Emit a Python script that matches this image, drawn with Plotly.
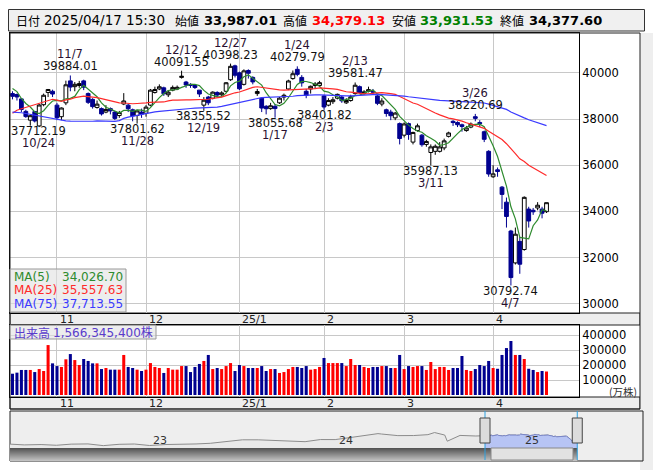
import plotly.graph_objects as go
import pandas as pd

W, H = 653, 470
def X(p): return p / W
def Y(p): return 1 - p / H

# ---------------- data ----------------
dates = ["10/18","10/21","10/22","10/23","10/24","10/25","10/28","10/29","10/30","10/31",
 "11/1","11/5","11/6","11/7","11/8","11/11","11/12","11/13","11/14","11/15","11/18","11/19","11/20","11/21","11/22","11/25","11/26","11/27","11/28","11/29",
 "12/2","12/3","12/4","12/5","12/6","12/9","12/10","12/11","12/12","12/13","12/16","12/17","12/18","12/19","12/20","12/23","12/24","12/25","12/26","12/27","12/30",
 "1/6","1/7","1/8","1/9","1/10","1/14","1/15","1/16","1/17","1/20","1/21","1/22","1/23","1/24","1/27","1/28","1/29","1/30","1/31",
 "2/3","2/4","2/5","2/6","2/7","2/10","2/12","2/13","2/14","2/17","2/18","2/19","2/20","2/21","2/25","2/26","2/27","2/28",
 "3/3","3/4","3/5","3/6","3/7","3/10","3/11","3/12","3/13","3/14","3/17","3/18","3/19","3/21","3/24","3/25","3/26","3/27","3/28","3/31",
 "4/1","4/2","4/3","4/4","4/7","4/8","4/9","4/10","4/11","4/14","4/15","4/16","4/17"]

opens = [39100,39060,38870,38330,37950,38320,37700,38620,39150,39200,
 38600,38100,38700,39650,39400,39450,39650,39100,38850,38500,38450,38300,38450,38300,38150,38650,38600,38400,38150,38300,
 38250,38600,39150,39300,39350,39050,39250,39300,39800,39600,39500,39450,39250,38600,38950,38900,39150,39050,39200,39700,40300,
 40000,39500,40100,39800,39100,38900,38550,38450,38550,38700,38950,39300,39750,40150,39800,39200,39300,39450,39450,
 39000,38600,38750,38900,38950,38700,38800,39100,39400,39100,39200,39200,39000,38650,38400,38300,38050,37800,
 37300,37800,37000,37500,37300,36900,36550,36600,36600,36750,37250,37900,37850,37750,37500,37650,38100,37850,37450,36600,
 35500,35800,35050,34400,33150,31770,32700,32350,34100,34050,34150,34100,33987.01]
highs = [39200,39100,38900,38400,38200,38350,38650,39100,39300,39270,
 38700,38500,39660,39884.01,39600,39650,39700,39150,38900,38800,38500,38600,38500,38350,38350,39120,38650,38450,38400,38450,
 38600,39300,39400,39500,39400,39250,39450,39450,40091.55,39650,39550,39500,39250,38950,39000,39200,39200,39200,39600,40398.23,40350,
 40050,40150,40150,39850,39300,38950,38600,38700,38650,38950,39100,39700,40100,40279.79,39900,39300,39450,39600,39650,
 39050,38900,38950,39100,39000,38900,39050,39581.47,39450,39250,39400,39300,39050,38900,38450,38400,38300,37850,
 37850,37850,37450,37800,37350,37100,36900,36900,37000,37150,37450,37950,37900,37800,37700,37850,38220.69,37950,37500,36650,
 36000,35900,35100,34600,33200,33300,32900,34650,34200,34150,34400,34200,34379.13]
lows = [38850,38800,38300,38050,37712.19,37850,37650,38550,38950,38950,
 37950,37950,38600,39200,39200,39350,39250,38650,38450,38450,38150,38250,38200,37950,38050,38600,38300,37900,37801.62,38050,
 38100,38550,39100,39250,39000,38950,39200,39250,39750,39350,39350,39300,38950,38355.52,38600,38850,38950,39000,39150,39650,39800,
 39250,39450,39750,39500,39000,38300,38200,38400,38055.68,38650,38800,39250,39700,39850,39400,38900,39100,39300,39400,
 38401.82,38550,38650,38850,38700,38650,38750,39050,39100,39050,39150,39050,38600,38550,38100,37950,37950,36900,
 37200,37100,36900,37450,36800,36800,35987.13,36450,36550,36650,37200,37700,37650,37450,37450,37600,37900,37650,37000,35500,
 35450,35500,34100,33300,30792.74,31700,31300,32300,33300,33850,34050,33700,33931.53]
closes = [38981.75,38954.60,38411.96,38104.86,38143.29,37913.92,38605.53,39027.98,39277.39,39081.25,
 38053.67,38474.90,39480.67,39381.41,39500.37,39533.32,39376.09,38721.66,38535.70,38642.91,38220.85,38414.43,38352.34,38026.17,38283.85,38780.14,38442.00,38134.97,38349.06,38208.03,
 38513.02,39248.86,39276.39,39395.60,39091.17,39160.50,39367.58,39372.23,39849.14,39470.44,39457.49,39364.68,39081.71,38813.58,38701.90,39161.34,39036.85,39130.43,39568.06,40281.16,39894.54,
 39307.05,40083.30,39981.06,39605.09,39190.40,38474.30,38444.58,38572.60,38451.46,38902.50,39027.98,39646.25,39958.87,39931.98,39565.80,39016.87,39414.78,39513.97,39572.49,
 38520.09,38798.37,38831.48,39066.53,38787.02,38801.17,38963.70,39461.47,39149.43,39174.25,39270.40,39164.61,38678.04,38776.94,38237.79,38142.37,38256.17,37155.50,
 37785.47,37331.18,37418.24,37704.93,36887.17,37028.27,36793.11,36819.09,36790.03,37053.10,37396.52,37845.42,37751.88,37677.06,37608.49,37780.54,38027.29,37799.97,37120.33,35617.56,
 35624.48,35725.87,34735.93,33780.58,31136.58,33012.58,31714.03,34609.00,33585.58,33982.36,34267.54,33920.40,34377.60]
# volume in 10k shares (万株)
volumes = [142000,149000,167000,167000,167000,153000,173000,160000,333000,211000,
 193000,187000,238000,273000,233000,200000,240000,227000,211000,211000,173000,180000,169000,169000,169000,267000,187000,180000,169000,160000,
 169000,213000,187000,180000,147000,180000,169000,169000,193000,193000,153000,187000,207000,227000,267000,173000,180000,173000,193000,213000,160000,
 200000,193000,180000,180000,180000,193000,160000,173000,173000,147000,153000,173000,187000,187000,180000,193000,169000,173000,187000,
 247000,213000,213000,213000,213000,193000,240000,200000,200000,187000,180000,187000,187000,193000,193000,180000,180000,267000,
 173000,193000,187000,193000,193000,167000,220000,173000,187000,187000,167000,180000,180000,260000,167000,160000,173000,200000,193000,227000,
 180000,175000,267000,313000,360000,267000,267000,240000,175000,167000,153000,160000,156634.54]
# closes before 10/18 (for the moving averages)
prior_closes = [39631.06,40074.69,40580.76,40913.65,40912.37,40780.70,41580.17,41831.99,42224.02,41190.68,41275.08,41097.69,40126.35,40063.79,39599.00,39594.39,39154.85,37869.51,37667.41,38468.63,38525.95,39101.82,
 38126.33,35909.70,31458.42,34675.46,35089.62,34831.15,35025.00,36232.51,36442.43,36726.64,38062.67,37388.62,38062.92,37951.80,38211.01,38364.27,38110.22,38288.62,38371.76,38362.53,38647.75,
 38700.87,38686.31,37047.61,36657.09,36391.47,36215.75,36159.16,35619.77,36833.27,36581.76,36203.22,36380.17,37155.33,37723.91,37940.59,37870.26,38925.63,39829.56,37919.55,
 38651.97,37808.76,38552.06,38635.62,39332.74,38937.54,39277.96,39380.89,39605.80,39910.55,39180.30,38911.19]

month_labels = ["11", "12", "25/1", "2", "3", "4"]
month_first = ["11/1", "12/2", "1/6", "2/3", "3/3", "4/1"]
price_ticks = [30000, 32000, 34000, 36000, 38000, 40000]
volume_ticks = [100000, 200000, 300000, 400000]

peak_labels = [("10/24","low"),("11/7","high"),("11/28","low"),("12/12","high"),("12/19","low"),
               ("12/27","high"),("1/17","low"),("1/24","high"),("2/3","low"),("2/13","high"),
               ("3/11","low"),("3/26","high"),("4/7","low")]

nav_dates = ["2022-03-31","2022-04-28","2022-05-31","2022-06-30","2022-07-29","2022-08-31","2022-09-30","2022-10-31","2022-11-30","2022-12-30",
 "2023-01-31","2023-02-28","2023-03-31","2023-04-28","2023-05-31","2023-06-30","2023-07-31","2023-08-31","2023-09-29","2023-10-31","2023-11-30","2023-12-29",
 "2024-01-31","2024-02-29","2024-03-22","2024-03-29","2024-04-30","2024-05-31","2024-06-28","2024-07-11","2024-07-31","2024-08-05","2024-08-30","2024-09-30"]
nav_values = [27821,26848,27279,26393,27801,28091,25937,27587,27968,26095,
 27327,27446,28041,28856,30888,33189,33172,32619,31858,30859,33487,33464,
 36287,39166,40888,40369,38406,38488,39583,42224,39102,31458,38648,37920]
year_labels = ["23", "24", "25"]
year_starts = ["2023-01-01", "2024-01-01", "2025-01-01"]

header = {"date": "2025/04/17 15:30", "open": "33,987.01", "high": "34,379.13", "low": "33,931.53", "close": "34,377.60"}
ma_info = [("MA(5)", 5, "#2e8b2e"), ("MA(25)", 25, "#ff2a2a"), ("MA(75)", 75, "#3a3aff")]
volume_text = "1,566,345,400株"

# ---------------- derived ----------------
n = len(dates)
idx = list(range(n))
all_closes = pd.Series(prior_closes + closes)
full_dates = [f"{2024 if int(d.split('/')[0]) >= 10 else 2025}-{int(d.split('/')[0]):02d}-{int(d.split('/')[1]):02d}" for d in dates]

fig = go.Figure()
fig.add_trace(go.Candlestick(
    x=idx, open=opens, high=highs, low=lows, close=closes,
    increasing=dict(line=dict(color="black", width=1), fillcolor="white"),
    decreasing=dict(line=dict(color="#000090", width=1), fillcolor="#000090"),
    whiskerwidth=0, xaxis="x", yaxis="y", showlegend=False, hoverinfo="skip"))
for name, period, col in ma_info:
    ma = all_closes.rolling(period).mean().iloc[-n:].tolist()
    fig.add_trace(go.Scatter(x=idx, y=ma, mode="lines", line=dict(color=col, width=1.2),
                             xaxis="x", yaxis="y", showlegend=False, hoverinfo="skip"))

vcol = ["#ff0000" if c >= o else "#000090" for o, c in zip(opens, closes)]
fig.add_trace(go.Bar(x=idx, y=volumes, marker=dict(color=vcol, line=dict(width=0)), width=0.68,
                     xaxis="x2", yaxis="y2", showlegend=False, hoverinfo="skip"))

nav_x = nav_dates + full_dates
nav_y = nav_values + closes
fig.add_trace(go.Scatter(x=nav_x, y=nav_y, mode="lines", fill="tozeroy", fillcolor="#e9e9e9",
                         line=dict(color="#8c8c8c", width=1), xaxis="x3", yaxis="y3",
                         showlegend=False, hoverinfo="skip"))
fig.add_trace(go.Scatter(x=full_dates, y=closes, mode="lines", fill="tozeroy", fillcolor="#b7c4f4",
                         line=dict(color="#7a86c8", width=1), xaxis="x3", yaxis="y3",
                         showlegend=False, hoverinfo="skip"))

month_idx = [dates.index(d) for d in month_first]
grid = "#c8c8c8"
font = "DejaVu Sans, Noto Sans CJK JP, sans-serif"
jp = "Noto Sans CJK JP, DejaVu Sans, sans-serif"

# price axis: 40000 at y=72.8 px, 23.1 px per 1000
p_top = 40000 + (72.8 - 33) / 23.1 * 1000
p_bot = 40000 - (313 - 72.8) / 23.1 * 1000

fig.update_layout(
    width=W, height=H, margin=dict(l=0, r=0, t=0, b=0), autosize=False,
    paper_bgcolor="white", plot_bgcolor="white", hovermode=False,
    font=dict(family=font, size=11.5, color="black"),
    xaxis=dict(domain=[X(10), X(579)], range=[-0.56, 127.3], tickvals=month_idx, showticklabels=False,
               ticks="", showgrid=True, gridcolor=grid, gridwidth=1, zeroline=False,
               showline=True, linecolor="black", linewidth=1, mirror=True, anchor="y",
               rangeslider=dict(visible=False)),
    yaxis=dict(domain=[Y(313), Y(33)], range=[p_bot, p_top], side="right", tickvals=price_ticks,
               tickformat="d", ticks="", showgrid=True, gridcolor=grid, zeroline=False,
               showline=True, linecolor="black", linewidth=1, mirror=True, anchor="x",
               tickfont=dict(size=11.5)),
    xaxis2=dict(domain=[X(10), X(579)], matches="x", tickvals=month_idx, showticklabels=False,
                ticks="", showgrid=True, gridcolor=grid, zeroline=False, showline=True,
                linecolor="black", mirror=True, anchor="y2"),
    yaxis2=dict(domain=[Y(397), Y(325)], range=[-13300, 466700], side="right", tickvals=volume_ticks,
                tickformat="d", ticks="", showgrid=True, gridcolor=grid, zeroline=False,
                showline=True, linecolor="black", mirror=True, anchor="x2", tickfont=dict(size=11.5)),
    xaxis3=dict(domain=[X(10), X(643)], type="date", range=["2022-03-31", "2025-08-24"],
                showticklabels=False, ticks="", showgrid=False, zeroline=False, anchor="y3"),
    yaxis3=dict(domain=[Y(448), Y(411)], range=[23000, 69000], visible=False, anchor="x3"),
    bargap=0.3, boxgap=0.15, boxgroupgap=0,
)

shapes = []
ann = []
# header box
shapes.append(dict(type="rect", xref="paper", yref="paper", x0=X(8.5), x1=X(644.5), y0=Y(31), y1=Y(9.5),
                   fillcolor="#f0f0f0", line=dict(color="#333", width=1), layer="below"))
hdr = [("日付", 14, "black", False, jp, 12), (header["date"], 42, "black", False, font, 13.5),
       ("始値", 173, "black", False, jp, 12), (header["open"], 202, "black", True, font, 13),
       ("高値", 281, "black", False, jp, 12), (header["high"], 310, "#ff0000", True, font, 13),
       ("安値", 390, "black", False, jp, 12), (header["low"], 418, "#008000", True, font, 13),
       ("終値", 498, "black", False, jp, 12), (header["close"], 527, "black", True, font, 13)]
for t, x, c, b, f, s in hdr:
    ann.append(dict(text=f"<b>{t}</b>" if b else t, x=X(x), y=Y(20.5), xref="paper", yref="paper",
                    xanchor="left", yanchor="middle", showarrow=False, font=dict(color=c, size=s, family=f)))
# panel border and date strips
shapes.append(dict(type="rect", xref="paper", yref="paper", x0=X(10), x1=X(640), y0=Y(409), y1=Y(33),
                   line=dict(color="#222", width=1), layer="above"))
for y0, y1 in [(313, 325), (397, 409)]:
    shapes.append(dict(type="rect", xref="paper", yref="paper", x0=X(10), x1=X(640), y0=Y(y1), y1=Y(y0),
                       fillcolor="#eeeeee", line=dict(color="#222", width=1), layer="below"))
shapes.append(dict(type="rect", xref="paper", yref="paper", x0=X(640), x1=X(653), y0=Y(470), y1=Y(33),
                   fillcolor="#eeeeee", line=dict(width=0), layer="below"))
for lab, mi in zip(month_labels, month_idx):
    for yy, xr in [(319, "x"), (403, "x2")]:
        ann.append(dict(text=lab, x=mi, y=Y(yy), xref=xr, yref="paper", xanchor="left", yanchor="middle",
                        xshift=1, showarrow=False, font=dict(size=11, color="#222")))
ann.append(dict(text="(万株)", x=X(639), y=Y(391), xref="paper", yref="paper", xanchor="right",
                yanchor="middle", showarrow=False, font=dict(size=10.5, color="#333", family=jp)))

# peak labels
for d, kind in peak_labels:
    i = dates.index(d)
    v = highs[i] if kind == "high" else lows[i]
    s1, s2 = (9, 21) if kind == "high" else (-5.5, -17.5)
    xs = 8 if i < 6 else 0
    ann.append(dict(text=f"{v:.2f}", x=i, y=v, xref="x", yref="y", yshift=s1, xshift=xs, showarrow=False,
                    yanchor="middle", font=dict(size=11.5, color="#111")))
    ann.append(dict(text=d, x=i, y=v, xref="x", yref="y", yshift=s2, xshift=xs, showarrow=False,
                    yanchor="middle", font=dict(size=11.5, color="#2a1030")))

# MA legend box
shapes.append(dict(type="rect", xref="paper", yref="paper", x0=X(10), x1=X(126), y0=Y(312), y1=Y(269),
                   fillcolor="rgba(225,225,225,0.6)", line=dict(color="#999", width=1)))
final_ma = {name: all_closes.rolling(p).mean().iloc[-1] for name, p, _ in ma_info}
for k, (name, p, col) in enumerate(ma_info):
    yy = 276.5 + 13.5 * k
    ann.append(dict(text=name, x=X(11.5), y=Y(yy), xref="paper", yref="paper", xanchor="left",
                    yanchor="middle", showarrow=False, font=dict(size=12, color=col)))
    ann.append(dict(text=f"{final_ma[name]:,.2f}", x=X(125), y=Y(yy), xref="paper", yref="paper",
                    xanchor="right", yanchor="middle", showarrow=False, font=dict(size=12, color=col)))
# volume legend box
shapes.append(dict(type="rect", xref="paper", yref="paper", x0=X(10), x1=X(156), y0=Y(339), y1=Y(325),
                   fillcolor="rgba(225,225,225,0.6)", line=dict(color="#999", width=1)))
ann.append(dict(text="出来高", x=X(11.5), y=Y(332), xref="paper", yref="paper", xanchor="left",
                yanchor="middle", showarrow=False, font=dict(size=12, color="#5a3ccc", family=jp)))
ann.append(dict(text=volume_text, x=X(155), y=Y(332), xref="paper", yref="paper", xanchor="right",
                yanchor="middle", showarrow=False, font=dict(size=12, color="#5a3ccc")))

# navigator
shapes.append(dict(type="rect", xref="paper", yref="paper", x0=X(10), x1=X(643), y0=Y(461), y1=Y(411),
                   fillcolor="#eeeeee", line=dict(color="#222", width=1), layer="below"))
for lab, d in zip(year_labels, year_starts):
    ann.append(dict(text=lab, x=d, y=Y(440), xref="x3", yref="paper", xanchor="left", yanchor="middle",
                    showarrow=False, font=dict(size=11, color="#333")))
sel0, sel1 = full_dates[0], full_dates[-1]
for g, yy in enumerate(range(448, 461)):
    shade = int(85 + 9 * g)
    shapes.append(dict(type="rect", xref="x3", yref="paper", x0="2022-03-31", x1=sel1, xsizemode="scaled",
                       y0=Y(yy + 1), y1=Y(yy), fillcolor=f"rgb({shade},{shade},{shade})", line=dict(width=0)))
shapes.append(dict(type="rect", xref="x3", yref="paper", xsizemode="pixel", xanchor=sel0, x0=6, x1=88,
                   y0=Y(460), y1=Y(448), fillcolor="#e2e2e2", line=dict(color="#888", width=1)))
for sd in (sel0, sel1):
    shapes.append(dict(type="line", xref="x3", yref="paper", x0=sd, x1=sd, y0=Y(460), y1=Y(411),
                       line=dict(color="#2aa0e0", width=1)))
    shapes.append(dict(type="rect", xref="x3", yref="paper", xsizemode="pixel", xanchor=sd, x0=-5, x1=5,
                       y0=Y(443), y1=Y(418), fillcolor="#dcdcdc", line=dict(color="#444", width=1)))

fig.update_layout(shapes=shapes, annotations=ann)
fig.write_html("out.html", config={"displayModeBar": False},
               post_script="document.body.style.margin='0';")
